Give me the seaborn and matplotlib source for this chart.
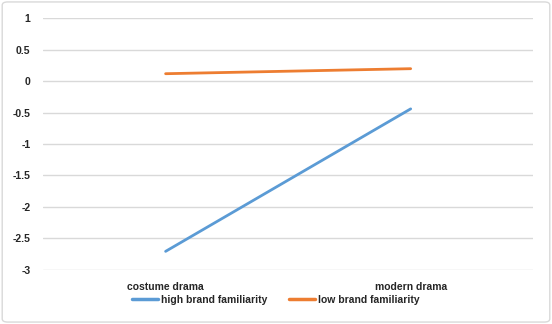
import matplotlib
matplotlib.use("Agg")
import matplotlib.pyplot as plt
import seaborn as sns
import pandas as pd
from matplotlib.patches import FancyBboxPatch
from matplotlib.lines import Line2D

categories = ["costume drama", "modern drama"]
high_brand = [-2.71, -0.44]
low_brand = [0.12, 0.20]
series_names = ["high brand familiarity", "low brand familiarity"]
y_ticks = [1, 0.5, 0, -0.5, -1, -1.5, -2, -2.5, -3]

df = pd.DataFrame({
    "drama": categories * 2,
    "value": high_brand + low_brand,
    "series": [series_names[0]] * 2 + [series_names[1]] * 2,
})

sns.set_style("white")
plt.rcParams["font.family"] = ["Liberation Sans", "DejaVu Sans"]

fig = plt.figure(figsize=(5.52, 3.24), dpi=100)
ax = fig.add_axes([0.078, 0.168, 0.888, 0.775])

sns.lineplot(data=df, x="drama", y="value", hue="series", sort=False,
             palette=["#5B9BD5", "#ED7D31"], linewidth=2.0, ax=ax, legend=False)

ax.set_ylim(-3, 1)
ax.set_xlim(-0.5, 1.5)
ax.set_yticks(y_ticks)
ax.set_yticklabels([f"{t:g}" for t in y_ticks])
ax.yaxis.grid(True, color="#D9D9D9", linewidth=1.0)
ax.set_axisbelow(True)
for s in ax.spines.values():
    s.set_visible(False)
ax.tick_params(axis="both", length=0, labelsize=7.5, colors="#262626")
ax.tick_params(axis="x", pad=9)
ax.tick_params(axis="y", pad=9)
for lab in ax.get_xticklabels() + ax.get_yticklabels():
    lab.set_fontweight("bold")
ax.set_xlabel("")
ax.set_ylabel("")

handles = [Line2D([], [], color="#5B9BD5", linewidth=2.5),
           Line2D([], [], color="#ED7D31", linewidth=2.5)]
fig.legend(handles, series_names, loc="center", bbox_to_anchor=(0.5, 0.074),
           ncol=2, frameon=False, prop={"size": 7.5, "weight": "bold"},
           handlelength=2.5, handletextpad=0.3, columnspacing=2.1,
           labelcolor="#262626")

border = FancyBboxPatch((0.004, 0.006), 0.992, 0.988, boxstyle="round,pad=0,rounding_size=0.01",
                        transform=fig.transFigure, facecolor="none",
                        edgecolor="#D9D9D9", linewidth=1.0)
fig.patches.append(border)

fig.savefig("out.png", dpi=100)
